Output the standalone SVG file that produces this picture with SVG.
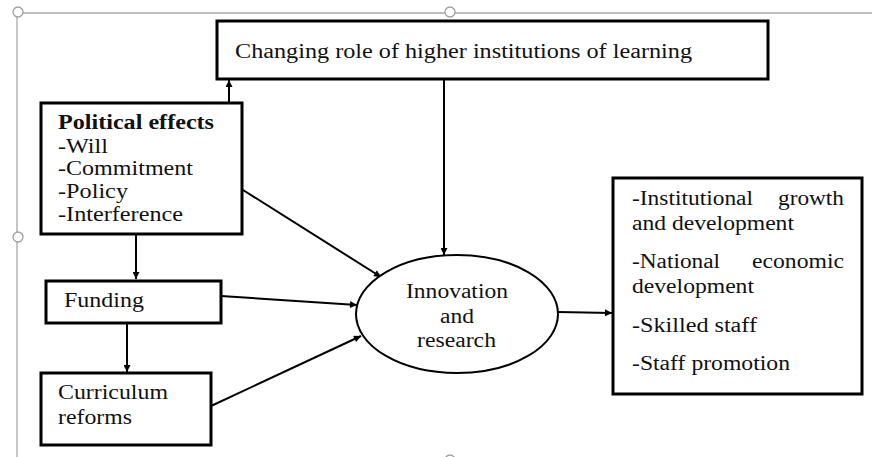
<svg xmlns="http://www.w3.org/2000/svg" width="872" height="457" viewBox="0 0 872 457">
  <style>
    .box { fill: #fff; stroke: #000; stroke-width: 3; }
    .oval { fill: #fff; stroke: #000; stroke-width: 2; }
    .link { fill: none; stroke: #000; stroke-width: 2; marker-end: url(#head); }
    .frame { fill: none; stroke: #a8a8a8; stroke-width: 1.3; }
    .handle { fill: #fff; stroke: #a0a0a0; stroke-width: 1.3; }
    text { font-family: "Liberation Serif", "Times New Roman", serif; font-size: 20px; fill: #111; }
    .bold { font-weight: bold; }
    .mid { text-anchor: middle; }
    .end { text-anchor: end; }
  </style>
  <defs>
    <marker id="head" viewBox="0 0 10 10" refX="10" refY="5" markerWidth="8" markerHeight="7" markerUnits="userSpaceOnUse" orient="auto">
      <path d="M0,0 L10,5 L0,10 z" fill="#000"/>
    </marker>
  </defs>

  <rect width="872" height="457" fill="#fff"/>

  <!-- selection frame around the drawing canvas -->
  <g id="frame">
    <path class="frame" d="M17,13 H872 M17,13 V457"/>
    <circle class="handle" cx="18" cy="12" r="5"/>
    <circle class="handle" cx="450" cy="12" r="5"/>
    <circle class="handle" cx="18" cy="237" r="5"/>
    <circle class="handle" cx="450" cy="460" r="5"/>
  </g>

  <!-- connectors -->
  <g id="connectors">
    <line class="link" x1="229" y1="103" x2="229" y2="80"/>
    <line class="link" x1="444" y1="79" x2="444" y2="255"/>
    <line class="link" x1="243" y1="190" x2="381" y2="277"/>
    <line class="link" x1="136" y1="234" x2="136" y2="279"/>
    <line class="link" x1="221" y1="296" x2="357" y2="305"/>
    <line class="link" x1="127" y1="323" x2="127" y2="372"/>
    <line class="link" x1="211" y1="406" x2="361" y2="336"/>
    <line class="link" x1="558" y1="312" x2="612" y2="313"/>
  </g>

  <g id="node-role">
    <rect class="box" x="217" y="21" width="551" height="58"/>
    <text x="235" y="58" textLength="457" lengthAdjust="spacingAndGlyphs">Changing role of higher institutions of learning</text>
  </g>

  <g id="node-political">
    <rect class="box" x="41" y="103" width="201" height="131"/>
    <text class="bold" x="58" y="129" textLength="156" lengthAdjust="spacingAndGlyphs">Political effects</text>
    <text x="58" y="153" textLength="50" lengthAdjust="spacingAndGlyphs">-Will</text>
    <text x="58" y="175" textLength="135" lengthAdjust="spacingAndGlyphs">-Commitment</text>
    <text x="58" y="198" textLength="70" lengthAdjust="spacingAndGlyphs">-Policy</text>
    <text x="58" y="221" textLength="125" lengthAdjust="spacingAndGlyphs">-Interference</text>
  </g>

  <g id="node-funding">
    <rect class="box" x="46" y="281" width="175" height="42"/>
    <text x="64" y="307" textLength="80" lengthAdjust="spacingAndGlyphs">Funding</text>
  </g>

  <g id="node-curriculum">
    <rect class="box" x="41" y="373" width="170" height="72"/>
    <text x="58" y="399" textLength="110" lengthAdjust="spacingAndGlyphs">Curriculum</text>
    <text x="58" y="424" textLength="74" lengthAdjust="spacingAndGlyphs">reforms</text>
  </g>

  <g id="node-innovation">
    <ellipse class="oval" cx="457" cy="314" rx="101" ry="59"/>
    <text x="406" y="298" textLength="102" lengthAdjust="spacingAndGlyphs">Innovation</text>
    <text x="440" y="323" textLength="34" lengthAdjust="spacingAndGlyphs">and</text>
    <text x="417" y="347" textLength="79" lengthAdjust="spacingAndGlyphs">research</text>
  </g>

  <g id="node-outcomes">
    <rect class="box" x="613" y="178" width="249" height="216"/>
    <text x="632" y="205" textLength="121" lengthAdjust="spacingAndGlyphs">-Institutional</text>
    <text x="778" y="205" textLength="66" lengthAdjust="spacingAndGlyphs">growth</text>
    <text x="632" y="230" textLength="162" lengthAdjust="spacingAndGlyphs">and development</text>
    <text x="632" y="268" textLength="88" lengthAdjust="spacingAndGlyphs">-National</text>
    <text x="752" y="268" textLength="92" lengthAdjust="spacingAndGlyphs">economic</text>
    <text x="632" y="293" textLength="122" lengthAdjust="spacingAndGlyphs">development</text>
    <text x="632" y="332" textLength="125" lengthAdjust="spacingAndGlyphs">-Skilled staff</text>
    <text x="632" y="370" textLength="158" lengthAdjust="spacingAndGlyphs">-Staff promotion</text>
  </g>
</svg>
